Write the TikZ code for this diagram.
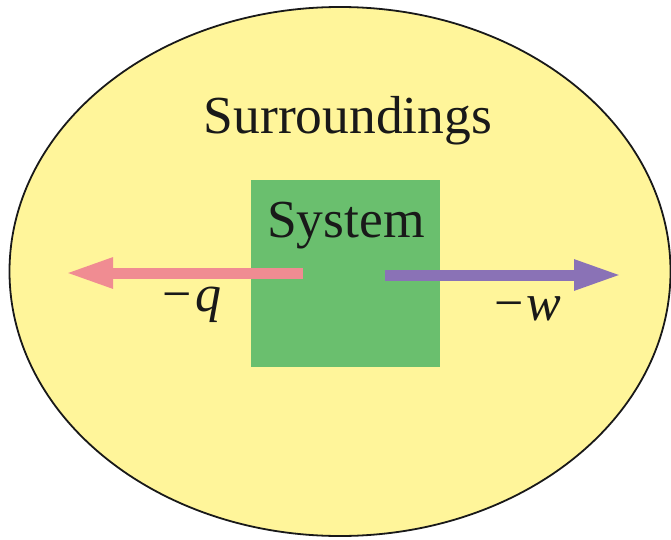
\documentclass[tikz,border=0pt]{standalone}
\usepackage{fontspec}
\setmainfont{Liberation Serif}
\usetikzlibrary{arrows.meta,shapes.geometric}
\definecolor{surr}{HTML}{FFF59A}
\definecolor{sysgreen}{HTML}{6ABF6E}
\definecolor{heatpink}{HTML}{F08C92}
\definecolor{workpurple}{HTML}{8A72B6}
\tikzset{
  bigtext/.style={font=\fontsize{53.5}{60}\selectfont, text=black!90, inner sep=0pt},
  lbltext/.style={font=\fontsize{52}{58}\selectfont, text=black!90, inner sep=0pt},
  flow/.style={line width=11pt, -{Triangle[length=48pt,width=28pt]}},
}
\begin{document}
\begin{tikzpicture}[x=1pt,y=-1pt]
\useasboundingbox (0,0) rectangle (671,540);
\node[draw=black!90, line width=1.8pt, fill=surr, ellipse, minimum width=661pt, minimum height=529pt, inner sep=0pt] (surr) at (340,271.5) {};
\node[fill=sysgreen, rectangle, minimum width=188.5pt, minimum height=187pt, inner sep=0pt] (sys) at (345.25,273.5) {};
\node[bigtext, anchor=base] (surrlabel) at (348,134) {Surroundings};
\node[bigtext, anchor=base] (syslabel) at (346,237.5) {System};
\coordinate (qstart) at (303,273);
\coordinate (qend) at (65,273);
\coordinate (wstart) at (385,275);
\coordinate (wend) at (622,275);
\draw[flow, heatpink] (qstart) -- (qend);
\draw[flow, workpurple] (wstart) -- (wend);
\node[lbltext, anchor=base] (qlabel) at (192,311) {−\kern3pt\textit{q}};
\node[lbltext, anchor=base] (wlabel) at (528,320) {−\kern3pt\textit{w}};
\end{tikzpicture}
\end{document}
